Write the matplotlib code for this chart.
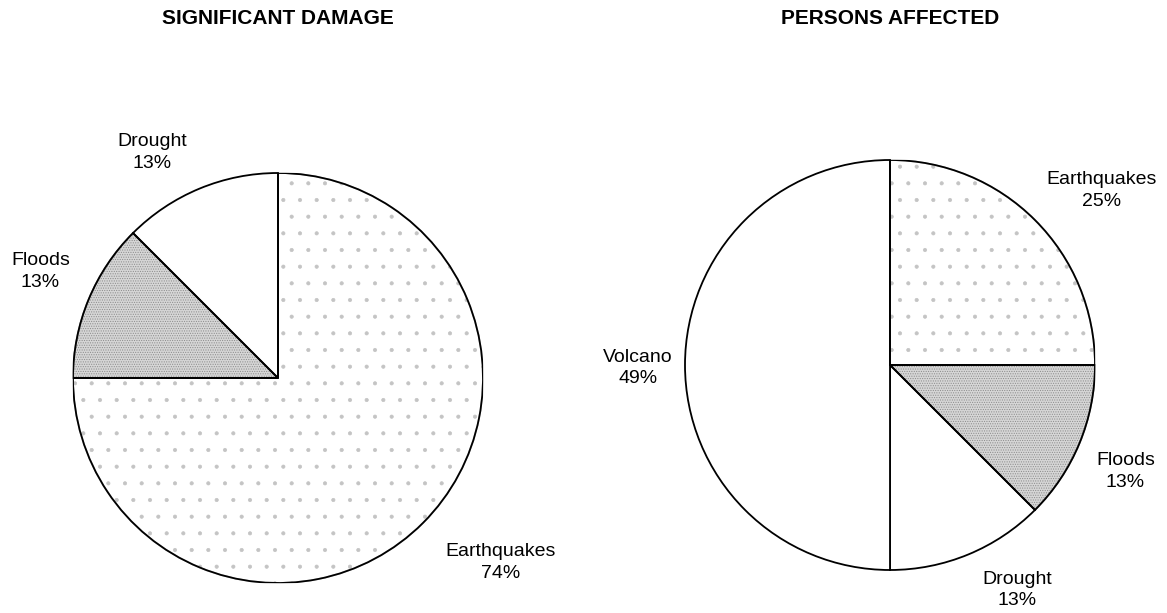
import numpy as np
import matplotlib.pyplot as plt
from matplotlib.patches import Wedge

plt.rcParams['font.family'] = ['Liberation Sans', 'DejaVu Sans']
plt.rcParams['hatch.linewidth'] = 0.5

# shares as drawn (slice angles), and the printed percentages
dmg_names = ['Earthquakes', 'Floods', 'Drought']
dmg_sizes = [75, 12.5, 12.5]
dmg_pct = ['74%', '13%', '13%']

aff_names = ['Earthquakes', 'Floods', 'Drought', 'Volcano']
aff_sizes = [25, 12.5, 12.5, 50]
aff_pct = ['25%', '13%', '13%', '49%']

styles = {
    'Earthquakes': dict(facecolor='white', hatch='.', hcol='#c4c4c4'),
    'Floods': dict(facecolor='#d6d6d6', hatch='.......', hcol='#8c8c8c'),
    'Drought': dict(facecolor='white', hatch=None, hcol='black'),
    'Volcano': dict(facecolor='white', hatch=None, hcol='black'),
}

W, H = 1167, 613
fig = plt.figure(figsize=(W / 100, H / 100), dpi=100)


def draw(cx, cy, r, names, sizes, pct, title, ldist, lshift):
    ax = fig.add_axes([(cx - r) / W, (H - cy - r) / H, 2 * r / W, 2 * r / H])
    labels = [n + '\n' + p for n, p in zip(names, pct)]
    wedges, texts = ax.pie(sizes, labels=labels, startangle=90, counterclock=False,
                           radius=1,
                           wedgeprops=dict(edgecolor='black', linewidth=1.3),
                           textprops=dict(fontsize=14, color='black'))
    for w, n, t, d, s in zip(wedges, names, texts, ldist, lshift):
        st = styles[n]
        w.set_facecolor(st['facecolor'])
        if st['hatch']:
            w.set_hatch(st['hatch'])
            w.set_edgecolor(st['hcol'])
            ax.add_patch(Wedge(w.center, w.r, w.theta1, w.theta2,
                               fill=False, edgecolor='black', linewidth=1.3))
        ang = np.deg2rad((w.theta1 + w.theta2) / 2 + s)
        t.set_position((d * np.cos(ang), d * np.sin(ang)))
        t.set_horizontalalignment('center')
        t.set_verticalalignment('center')
        t.set_multialignment('center')
        t.set_linespacing(1.35)
    ax.set_xlim(-1, 1)
    ax.set_ylim(-1, 1)
    ax.set_aspect('equal')
    ax.axis('off')
    fig.text(cx / W, 1 - 19 / H, title, ha='center', va='center',
             fontsize=15, fontweight='bold')
    return ax


draw(278, 378, 205, dmg_names, dmg_sizes, dmg_pct, 'SIGNIFICANT DAMAGE',
     [1.41, 1.27, 1.26], [5.4, -1.6, 6.6])
draw(890, 365, 205, aff_names, aff_sizes, aff_pct, 'PERSONS AFFECTED',
     [1.34, 1.26, 1.26, 1.23], [-5.5, -1.8, 6.9, 0.7])

fig.savefig('out.png', dpi=100, facecolor='white')
